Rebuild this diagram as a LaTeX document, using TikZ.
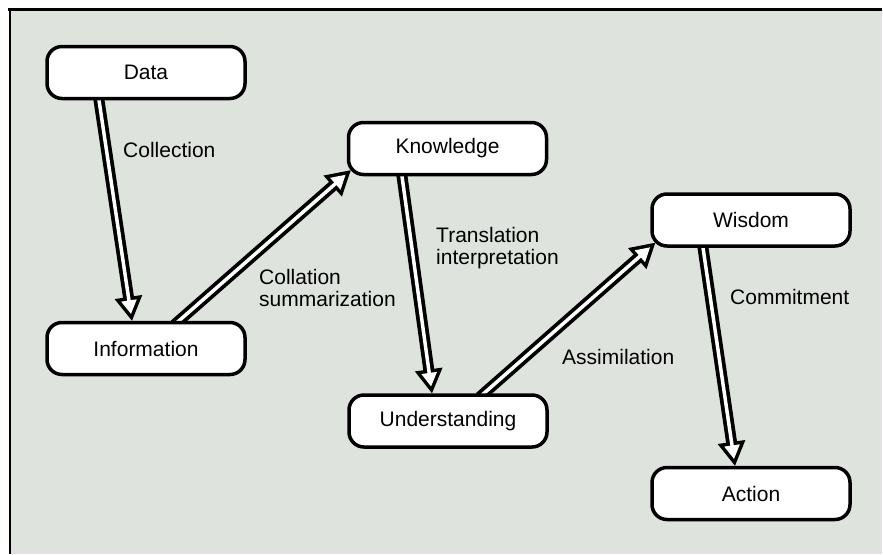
\documentclass[tikz,border=0pt]{standalone}
\usepackage{fontspec}
\setmainfont{Liberation Sans}
\usetikzlibrary{calc}
\pgfdeclarelayer{bg}
\pgfdeclarelayer{arr}
\pgfsetlayers{bg,arr,main}
\definecolor{paper}{HTML}{DEE3DE}
\tikzset{
  stage/.style={draw=black, line width=3.5pt, fill=white, rounded corners=15pt,
    minimum width=198pt, minimum height=52pt, inner sep=0pt,
    font=\fontsize{21}{24}\selectfont},
  lbl/.style={anchor=west, align=left, inner sep=0pt,
    font=\fontsize{21}{22}\selectfont}
}
\newcommand{\hollowarrow}[2]{%
  \begin{pgfonlayer}{arr}
  \draw[line width=11pt] ($(#1)!-6pt!(#2)$) -- ($(#2)!20pt!(#1)$);
  \coordinate (hb) at ($(#2)!24pt!(#1)$);
  \fill (#2) -- ($(hb)!14pt!90:(#2)$) -- ($(hb)!14pt!-90:(#2)$) -- cycle;
  \draw[white, line width=3.5pt] ($(#1)!-6pt!(#2)$) -- ($(#2)!18pt!(#1)$);
  \coordinate (wt) at ($(#2)!6.95pt!(#1)$);
  \coordinate (wb) at ($(#2)!20.5pt!(#1)$);
  \fill[white] (wt) -- ($(wb)!7.9pt!90:(wt)$) -- ($(wb)!7.9pt!-90:(wt)$) -- cycle;
  \end{pgfonlayer}}
\begin{document}
\begin{tikzpicture}[x=1pt, y=-1pt]
\useasboundingbox (0,0) rectangle (883,554);
\begin{pgfonlayer}{bg}
\fill[white] (0,0) rectangle (883,554);
\fill[paper] (10,9) rectangle (882,554);
\fill[black] (8,8) rectangle (882,10.5);
\fill[black] (8.5,8) rectangle (11,554);
\end{pgfonlayer}

\node[stage] (data) at (146,72.5) {Data};
\node[stage] (info) at (146,348.5) {Information};
\node[stage] (know) at (447.5,148.5) {Knowledge};
\node[stage] (under) at (448,421) {Understanding};
\node[stage] (wis) at (751,220) {Wisdom};
\node[stage] (act) at (751,493.5) {Action};

\coordinate (s1) at ([xshift=-47pt]data.south);
\coordinate (t1) at ([xshift=-14pt]info.north);
\coordinate (s2) at ([xshift=33pt]info.north);
\coordinate (t2) at ([xshift=4pt,yshift=6pt]know.south west);
\coordinate (s3) at ([xshift=-45.5pt]know.south);
\coordinate (t3) at ([xshift=-16pt]under.north);
\coordinate (s4) at ([xshift=36pt]under.north);
\coordinate (t4) at ([xshift=5pt,yshift=5pt]wis.south west);
\coordinate (s5) at ([xshift=-48pt]wis.south);
\coordinate (t5) at ([xshift=-16pt]act.north);

\hollowarrow{s1}{t1}
\hollowarrow{s2}{t2}
\hollowarrow{s3}{t3}
\hollowarrow{s4}{t4}
\hollowarrow{s5}{t5}

\node[lbl] (l1) at (123,150) {Collection};
\node[lbl] (l2) at (259,288) {Collation\\summarization};
\node[lbl] (l3) at (436,248) {Translation\\interpretation};
\node[lbl] (l4) at (562,357) {Assimilation};
\node[lbl] (l5) at (730,297) {Commitment};
\end{tikzpicture}
\end{document}
